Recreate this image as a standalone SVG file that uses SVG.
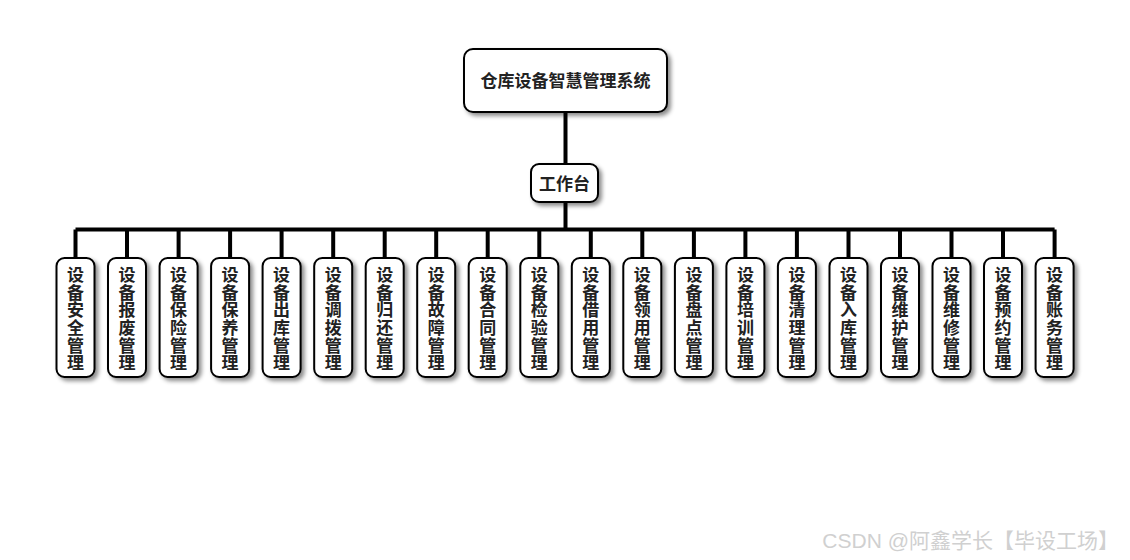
<svg xmlns="http://www.w3.org/2000/svg" width="1130" height="560" viewBox="0 0 1130 560">
<style>
.box{fill:#fff;stroke:#000;stroke-width:2;filter:url(#sh)}
.t{font-family:"Noto Sans CJK SC","Liberation Sans",sans-serif;font-weight:bold;font-size:17px;fill:#222;text-anchor:middle}
.v{writing-mode:vertical-rl;letter-spacing:0.6px;dominant-baseline:central}
.wire{stroke:#000;stroke-width:4;fill:none}
.wm{font-family:"Liberation Sans","Noto Sans CJK SC",sans-serif;font-size:21px;fill:#d0d0d0}
</style>
<defs>
<filter id="sh" x="-30%" y="-30%" width="160%" height="160%">
<feDropShadow dx="3" dy="3" stdDeviation="2" flood-color="#000" flood-opacity="0.45"/>
</filter>
</defs>
<rect width="1130" height="560" fill="#fff"/>
<g id="connectors">
<path class="wire" d="M565.5 112V164M565.5 202V229.5M75.5 229.5H1054.6"/>
<path class="wire" d="M75.5 229.5V258M127 229.5V258M178.6 229.5V258M230.1 229.5V258M281.6 229.5V258M333.2 229.5V258M384.7 229.5V258M436.2 229.5V258M487.7 229.5V258M539.3 229.5V258M590.8 229.5V258M642.3 229.5V258M693.9 229.5V258M745.4 229.5V258M796.9 229.5V258M848.5 229.5V258M900 229.5V258M951.5 229.5V258M1003 229.5V258M1054.6 229.5V258"/>
</g>
<g id="root">
<rect class="box" x="464" y="49" width="203" height="63" rx="9"/>
<text class="t" x="565.5" y="86.5">仓库设备智慧管理系统</text>
</g>
<g id="workbench">
<rect class="box" x="531" y="164" width="67" height="38" rx="8"/>
<text class="t" x="564.5" y="189.5">工作台</text>
</g>
<g id="n1"><rect class="box" x="56.5" y="258" width="38" height="119" rx="8"/><text class="t v" x="75.5" y="319">设备安全管理</text></g>
<g id="n2"><rect class="box" x="108" y="258" width="38" height="119" rx="8"/><text class="t v" x="127" y="319">设备报废管理</text></g>
<g id="n3"><rect class="box" x="159.6" y="258" width="38" height="119" rx="8"/><text class="t v" x="178.6" y="319">设备保险管理</text></g>
<g id="n4"><rect class="box" x="211.1" y="258" width="38" height="119" rx="8"/><text class="t v" x="230.1" y="319">设备保养管理</text></g>
<g id="n5"><rect class="box" x="262.6" y="258" width="38" height="119" rx="8"/><text class="t v" x="281.6" y="319">设备出库管理</text></g>
<g id="n6"><rect class="box" x="314.2" y="258" width="38" height="119" rx="8"/><text class="t v" x="333.2" y="319">设备调拨管理</text></g>
<g id="n7"><rect class="box" x="365.7" y="258" width="38" height="119" rx="8"/><text class="t v" x="384.7" y="319">设备归还管理</text></g>
<g id="n8"><rect class="box" x="417.2" y="258" width="38" height="119" rx="8"/><text class="t v" x="436.2" y="319">设备故障管理</text></g>
<g id="n9"><rect class="box" x="468.7" y="258" width="38" height="119" rx="8"/><text class="t v" x="487.7" y="319">设备合同管理</text></g>
<g id="n10"><rect class="box" x="520.3" y="258" width="38" height="119" rx="8"/><text class="t v" x="539.3" y="319">设备检验管理</text></g>
<g id="n11"><rect class="box" x="571.8" y="258" width="38" height="119" rx="8"/><text class="t v" x="590.8" y="319">设备借用管理</text></g>
<g id="n12"><rect class="box" x="623.3" y="258" width="38" height="119" rx="8"/><text class="t v" x="642.3" y="319">设备领用管理</text></g>
<g id="n13"><rect class="box" x="674.9" y="258" width="38" height="119" rx="8"/><text class="t v" x="693.9" y="319">设备盘点管理</text></g>
<g id="n14"><rect class="box" x="726.4" y="258" width="38" height="119" rx="8"/><text class="t v" x="745.4" y="319">设备培训管理</text></g>
<g id="n15"><rect class="box" x="777.9" y="258" width="38" height="119" rx="8"/><text class="t v" x="796.9" y="319">设备清理管理</text></g>
<g id="n16"><rect class="box" x="829.5" y="258" width="38" height="119" rx="8"/><text class="t v" x="848.5" y="319">设备入库管理</text></g>
<g id="n17"><rect class="box" x="881" y="258" width="38" height="119" rx="8"/><text class="t v" x="900" y="319">设备维护管理</text></g>
<g id="n18"><rect class="box" x="932.5" y="258" width="38" height="119" rx="8"/><text class="t v" x="951.5" y="319">设备维修管理</text></g>
<g id="n19"><rect class="box" x="984" y="258" width="38" height="119" rx="8"/><text class="t v" x="1003" y="319">设备预约管理</text></g>
<g id="n20"><rect class="box" x="1035.6" y="258" width="38" height="119" rx="8"/><text class="t v" x="1054.6" y="319">设备账务管理</text></g>
<text class="wm" x="1119" y="548" text-anchor="end">CSDN @阿鑫学长【毕设工场】</text>
</svg>
